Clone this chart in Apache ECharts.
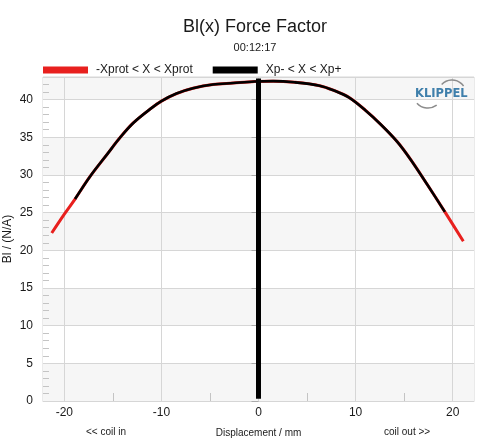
<!DOCTYPE html>
<html>
<head>
<meta charset="utf-8">
<script src="https://cdn.jsdelivr.net/npm/echarts@6/dist/echarts.min.js"></script>
<style>
  html, body { margin: 0; padding: 0; background: #fff; }
  #chart { width: 504px; height: 448px; }
</style>
</head>
<body>
<div id="chart"></div>
<script>
// displacement (mm) and force factor Bl (N/A)
const displacement = [-21.3, -20.0, -18.9, -17.35, -15.5, -14.3, -12.9, -11.0, -10.0, -8.45, -6.75, -4.7, -2.6, -0.4,
  1.5, 3.7, 6.3, 7.8, 9.3, 11.0, 12.6, 14.3, 15.7, 17.4, 19.2, 21.1];
const blValues = [22.3, 24.8, 26.8, 29.8, 32.9, 34.9, 36.9, 38.9, 39.8, 40.8, 41.5, 42.0, 42.2, 42.4,
  42.45, 42.3, 41.85, 41.2, 40.3, 38.6, 36.7, 34.4, 32.0, 28.7, 25.1, 21.2];

// Xp- / Xp+ limits (black part of the curve)
const xpLimits = [-18.9, 19.2];

// rest position marker
const markerX = [0, 0];
const markerY = [0.3, 42.8];

const seriesNames = ["-Xprot < X < Xprot", "Xp- < X < Xp+"];
const xLabelValues = [-20, -10, 0, 10, 20];
const xMinorValues = [-15, -5, 5, 15];
const yLabelValues = [0, 5, 10, 15, 20, 25, 30, 35, 40];
const yMinorValues = [1, 2, 3, 4, 6, 7, 8, 9, 11, 12, 13, 14, 16, 17, 18, 19, 21, 22, 23, 24,
  26, 27, 28, 29, 31, 32, 33, 34, 36, 37, 38, 39, 41, 42];

const fullCurve = displacement.map((x, i) => [x, blValues[i]]);
const xpCurve = fullCurve.filter(p => p[0] >= xpLimits[0] && p[0] <= xpLimits[1]);
const markerLine = markerX.map((x, i) => [x, markerY[i]]);

const font = "Liberation Sans, Arial, sans-serif";
const gridColor = "#d6d6d6";

let myChart = echarts.init(document.getElementById("chart"));

let option = {
  animation: false,
  textStyle: { fontFamily: font },
  title: {
    text: "Bl(x) Force Factor",
    subtext: "00:12:17",
    left: 250,
    textAlign: "center",
    top: 13,
    itemGap: 6,
    textStyle: { fontSize: 18, fontWeight: "normal", color: "#1a1a1a", fontFamily: font },
    subtextStyle: { fontSize: 11, color: "#1a1a1a", fontFamily: font }
  },
  legend: {
    data: seriesNames,
    left: 38,
    top: 59,
    icon: "rect",
    itemWidth: 45,
    itemHeight: 7,
    itemGap: 20,
    textStyle: { fontSize: 12, color: "#1a1a1a", fontFamily: font, padding: [0, 0, 0, 3] }
  },
  grid: {
    left: 43,
    right: 30,
    top: 77,
    bottom: 47,
    outerBoundsMode: "none",
    show: true,
    borderColor: gridColor,
    borderWidth: 1
  },
  xAxis: [
    {
      type: "value",
      min: -22.2,
      max: 22.2,
      name: "Displacement / mm",
      nameLocation: "middle",
      nameGap: 27,
      nameMoveOverlap: false,
      nameTextStyle: { fontSize: 10, color: "#1a1a1a", fontFamily: font },
      axisLine: { show: true, lineStyle: { color: gridColor } },
      axisTick: { show: false, customValues: xLabelValues },
      axisLabel: { customValues: xLabelValues, fontSize: 12, color: "#1a1a1a", margin: 6, fontFamily: font },
      splitLine: { show: true, lineStyle: { color: gridColor } }
    },
    {
      type: "value",
      min: -22.2,
      max: 22.2,
      position: "bottom",
      axisLine: { show: false },
      axisTick: { show: true, inside: true, length: 8, customValues: xMinorValues, lineStyle: { color: "#c4c4c4" } },
      axisLabel: { show: false },
      splitLine: { show: false }
    }
  ],
  yAxis: [
    {
      type: "value",
      min: 0,
      max: 43,
      name: "Bl / (N/A)",
      nameLocation: "middle",
      nameGap: 29,
      nameMoveOverlap: false,
      nameTextStyle: { fontSize: 12, color: "#1a1a1a", fontFamily: font },
      axisLine: { show: true, lineStyle: { color: gridColor } },
      axisTick: { show: false, customValues: yLabelValues.concat([43]) },
      axisLabel: { customValues: yLabelValues, fontSize: 12, color: "#1a1a1a", margin: 10, fontFamily: font },
      splitLine: { show: true, lineStyle: { color: gridColor } },
      splitArea: { show: true, areaStyle: { color: ["#f6f6f6", "#ffffff"] } }
    },
    {
      type: "value",
      min: 0,
      max: 43,
      position: "left",
      axisLine: { show: false },
      axisTick: { show: true, length: 7, customValues: yLabelValues, lineStyle: { color: "#aaaaaa" } },
      axisLabel: { show: false },
      splitLine: { show: false }
    },
    {
      type: "value",
      min: 0,
      max: 43,
      position: "left",
      axisLine: { show: false },
      axisTick: { show: true, inside: true, length: 6, customValues: yMinorValues, lineStyle: { color: "#c4c4c4" } },
      axisLabel: { show: false },
      splitLine: { show: false }
    }
  ],
  series: [
    {
      name: seriesNames[0],
      type: "line",
      data: fullCurve,
      smooth: 0.35,
      showSymbol: false,
      itemStyle: { color: "#e8201e" },
      lineStyle: { color: "#e8201e", width: 3 },
      z: 2
    },
    {
      name: seriesNames[1],
      type: "line",
      data: xpCurve,
      smooth: 0.35,
      showSymbol: false,
      itemStyle: { color: "#000000" },
      lineStyle: { color: "#000000", width: 2.6 },
      z: 3
    },
    {
      name: "marker",
      type: "line",
      data: markerLine,
      showSymbol: false,
      lineStyle: { color: "#000000", width: 5, cap: "butt" },
      z: 4
    }
  ],
  graphic: [
    {
      type: "text",
      x: 86,
      y: 427,
      style: { text: "<< coil in", fontSize: 10, fill: "#1a1a1a", fontFamily: font }
    },
    {
      type: "text",
      x: 384,
      y: 427,
      style: { text: "coil out >>", fontSize: 10, fill: "#1a1a1a", fontFamily: font }
    },
    {
      type: "arc",
      shape: { cx: 452, cy: 94, r: 14, startAngle: -2.4, endAngle: -0.6 },
      style: { stroke: "#8c8c8c", fill: "none", lineWidth: 1.5 },
      z: 10
    },
    {
      type: "text",
      x: 415,
      y: 88,
      style: { text: "KLIPPEL", fontSize: 11.5, fontWeight: "bold", fill: "#3f7fab", fontFamily: "DejaVu Sans, sans-serif" },
      z: 10
    },
    {
      type: "arc",
      shape: { cx: 428, cy: 93, r: 15, startAngle: 0.95, endAngle: 2.4 },
      style: { stroke: "#8c8c8c", fill: "none", lineWidth: 1.5 },
      z: 10
    }
  ]
};

myChart.setOption(option);
</script>
</body>
</html>
